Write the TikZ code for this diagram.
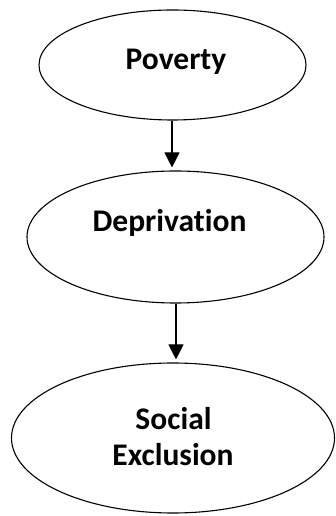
\documentclass[tikz,border=0pt]{standalone}
\usepackage{fontspec}
\setmainfont[Ligatures=NoCommon]{Carlito}
\usetikzlibrary{shapes.geometric,arrows.meta}
\begin{document}
\begin{tikzpicture}[x=1pt,y=1pt,
  oval/.style={draw=black,line width=1.1pt,ellipse,inner sep=0pt},
  lbl/.style={anchor=base,font=\fontsize{31.5}{36}\selectfont\bfseries,align=center},
  link/.style={line width=1.1pt,-{Triangle[width=15pt,length=15pt]},shorten >=3pt}]
\useasboundingbox (0,0) rectangle (335,516);
\node[oval,minimum width=267pt,minimum height=110pt] (pov) at (172.5,451) {};
\node[oval,minimum width=297pt,minimum height=132pt] (dep) at (175.5,279) {};
\node[oval,minimum width=323pt,minimum height=150pt] (soc) at (173,78) {};
\node[lbl] (tpov) at (176,446) {Poverty};
\node[lbl] (tdep) at (169.5,284) {Deprivation};
\node[lbl] (tsoc1) at (173.5,86) {Social};
\node[lbl] (tsoc2) at (173,50) {Exclusion};
\draw[link] ([xshift=-0.5pt]pov.south) -- ([xshift=-0.5pt]pov.south |- dep.north);
\draw[link] ([xshift=0.5pt]dep.south) -- ([xshift=0.5pt]dep.south |- soc.north);
\end{tikzpicture}
\end{document}
